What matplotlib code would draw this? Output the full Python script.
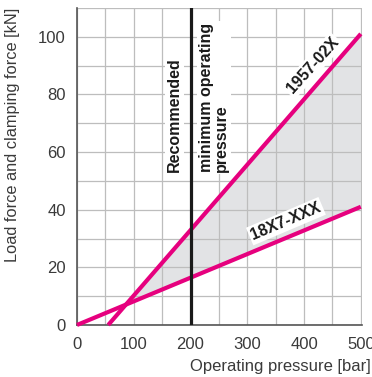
import numpy as np
import matplotlib.pyplot as plt

plt.rcParams['font.family'] = ['Liberation Sans', 'DejaVu Sans']

# data
pressure_18x7 = [0, 500]
force_18x7 = [0, 41]
pressure_1957 = [55, 500]
force_1957 = [0, 101]
min_pressure = 200

x_ticks = [0, 100, 200, 300, 400, 500]
y_ticks = [0, 20, 40, 60, 80, 100]

magenta = '#e6007e'
grey_txt = '#3a3a3a'

fig = plt.figure(figsize=(3.72, 3.77), dpi=100)
ax = fig.add_axes([0.207, 0.138, 0.766, 0.841])

# shaded area between the two lines
xs = np.linspace(0, 500, 1001)
hi = np.interp(xs, pressure_1957, force_1957, left=0)
lo = np.interp(xs, pressure_18x7, force_18x7)
ax.fill_between(xs, lo, hi, where=hi >= lo, interpolate=True,
                color='#e2e3e5', lw=0, zorder=0.3)

ax.plot(pressure_1957, force_1957, color=magenta, lw=3, solid_capstyle='butt',
        zorder=3, clip_on=False)
ax.plot(pressure_18x7, force_18x7, color=magenta, lw=3, solid_capstyle='butt',
        zorder=3, clip_on=False)
ax.axvline(min_pressure, color='#1a1a1a', lw=2.3, zorder=4)

ax.set_xlim(0, 502)
ax.set_ylim(0, 110)
ax.set_xticks(np.arange(0, 501, 50), minor=True)
ax.set_yticks(np.arange(0, 111, 10), minor=True)
ax.set_xticks(x_ticks)
ax.set_yticks(y_ticks)
ax.grid(True, which='both', color='#bdbdbd', lw=0.9)
ax.set_axisbelow(True)
ax.tick_params(which='both', length=0, labelsize=12, colors=grey_txt)
ax.tick_params(axis='x', pad=9)
ax.tick_params(axis='y', pad=8)

for s in ['top', 'right']:
    ax.spines[s].set_visible(False)
for s in ['left', 'bottom']:
    ax.spines[s].set_color('#555555')
    ax.spines[s].set_linewidth(1.2)

ax.set_ylabel('Load force and clamping force [kN]', fontsize=11.8, color=grey_txt)
ax.yaxis.set_label_coords(-0.2, 0.6)
ax.set_xlabel('Operating pressure [bar]', fontsize=12, color=grey_txt)
ax.xaxis.set_label_coords(1.03, -0.13)
ax.xaxis.label.set_ha('right')
ax.xaxis.label.set_va('center')

box = dict(facecolor='white', edgecolor='none', pad=1.5)
lbl = dict(fontsize=11.5, fontweight='bold', color='#1a1a1a', bbox=box, zorder=5)
ax.text(415, 90, '1957-02X', rotation=48, ha='center', va='center', **lbl)
ax.text(368, 36, '18X7-XXX', rotation=23, ha='center', va='center', **lbl)
ax.text(172, 53, 'Recommended', rotation=90, ha='center', va='bottom', **lbl)
ax.text(241, 53, 'minimum operating\npressure', rotation=90, ha='center', va='bottom',
        multialignment='left', linespacing=1.0, **lbl)

fig.savefig('out.png', dpi=100)
